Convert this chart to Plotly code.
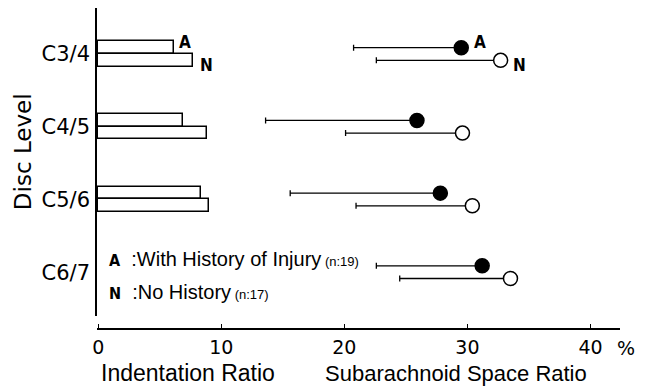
import plotly.graph_objects as go

levels = ["C3/4", "C4/5", "C5/6", "C6/7"]
# Indentation ratio (bars)
indent_A = [6.18, 6.91, 8.38, None]
indent_N = [7.68, 8.81, 8.98, None]
# Subarachnoid space ratio (mean, minus SD)
sas_A = [29.5, 25.9, 27.8, 31.2]
sas_A_sd = [8.75, 12.3, 12.2, 8.6]
sas_N = [32.7, 29.6, 30.4, 33.5]
sas_N_sd = [10.1, 9.5, 9.45, 9.0]
x_ticks = [0, 10, 20, 30, 40]

off = 0.087
pos = list(range(len(levels)))
yA = [p - off for p in pos]
yN = [p + off for p in pos]

FONT = "DejaVu Sans"
HELV = "Liberation Sans, Arial, sans-serif"
COND = "Liberation Sans Narrow, DejaVu Sans Condensed, Arial Narrow, sans-serif"

fig = go.Figure()
fig.add_trace(go.Bar(x=indent_A, y=yA, orientation="h", width=0.174,
                     marker=dict(color="white", line=dict(color="black", width=1.5)),
                     showlegend=False))
fig.add_trace(go.Bar(x=indent_N, y=yN, orientation="h", width=0.174,
                     marker=dict(color="white", line=dict(color="black", width=1.5)),
                     showlegend=False))
fig.add_trace(go.Scatter(x=sas_A, y=yA, mode="markers",
                         marker=dict(size=14, color="black", line=dict(color="black", width=1.5)),
                         error_x=dict(type="data", symmetric=False, array=[0]*4, arrayminus=sas_A_sd,
                                      color="black", thickness=1.3, width=3),
                         showlegend=False, cliponaxis=False))
fig.add_trace(go.Scatter(x=sas_N, y=yN, mode="markers",
                         marker=dict(size=14, color="white", line=dict(color="black", width=1.5)),
                         error_x=dict(type="data", symmetric=False, array=[0]*4, arrayminus=sas_N_sd,
                                      color="black", thickness=1.3, width=3),
                         showlegend=False, cliponaxis=False))

ann = []
def lab(t, x, y, xs, ys):
    ann.append(dict(text=f"<b>{t}</b>", x=x, y=y, xref="x", yref="y", xanchor="left",
                    yanchor="middle", xshift=xs, yshift=ys, showarrow=False,
                    font=dict(family=COND, size=17, color="black")))
lab("A", indent_A[0], yA[0], 3, 6)
lab("N", indent_N[0], yN[0], 5, -5)
lab("A", sas_A[0], yA[0], 11, 6)
lab("N", sas_N[0], yN[0], 10, -5)

legend_lines = [("A", "  :With History of Injury", "(n:19)", 2.82),
                ("N", "  :No History", "(n:17)", 3.27)]
for k, txt, n, yy in legend_lines:
    ann.append(dict(
        text=f"<span style='font-family:{COND};font-weight:bold;font-size:16px'>{k}</span>{txt}<span style='font-size:13px'> {n}</span>",
        x=0.72, y=yy, xref="x", yref="y", xanchor="left", yanchor="middle", showarrow=False,
        font=dict(family=HELV, size=20, color="black")))

ann.append(dict(text="%", x=40, y=0, xref="x", yref="paper", xshift=36, yshift=-19,
                xanchor="center", yanchor="middle", showarrow=False,
                font=dict(family=FONT, size=19, color="black")))
ann.append(dict(text="Indentation Ratio", x=7.3, y=0, xref="x", yref="paper", yshift=-44,
                xanchor="center", yanchor="middle", showarrow=False,
                font=dict(family=HELV, size=23, color="black")))
ann.append(dict(text="Subarachnoid Space Ratio", x=29.1, y=0, xref="x", yref="paper", yshift=-44,
                xanchor="center", yanchor="middle", showarrow=False,
                font=dict(family=HELV, size=22, color="black")))
ann.append(dict(text="Disc Level", x=0, y=0.551, xref="paper", yref="paper", xshift=-74,
                textangle=-90, xanchor="center", yanchor="middle", showarrow=False,
                font=dict(family=FONT, size=23, color="black")))

fig.update_layout(
    width=647, height=387, margin=dict(l=97, r=27, t=8, b=58),
    paper_bgcolor="white", plot_bgcolor="white",
    annotations=ann, bargap=0,
    xaxis=dict(range=[-0.1, 42.4], tickvals=x_ticks, ticktext=[str(v) for v in x_ticks],
               showgrid=False, zeroline=False, showline=True, linecolor="black", linewidth=1.5,
               ticks="inside", ticklen=4, tickcolor="black", tickwidth=1.3,
               anchor="free", position=0, ticklabelstandoff=1,
               tickfont=dict(family=FONT, size=19, color="black")),
    yaxis=dict(range=[3.605, -0.633], domain=[0.04, 1], tickvals=pos, ticktext=levels,
               showgrid=False, zeroline=False, showline=True, linecolor="black", linewidth=1.5,
               ticks="", ticklabelstandoff=1,
               tickfont=dict(family=FONT, size=21, color="black")),
)

fig.write_html("out.html")
